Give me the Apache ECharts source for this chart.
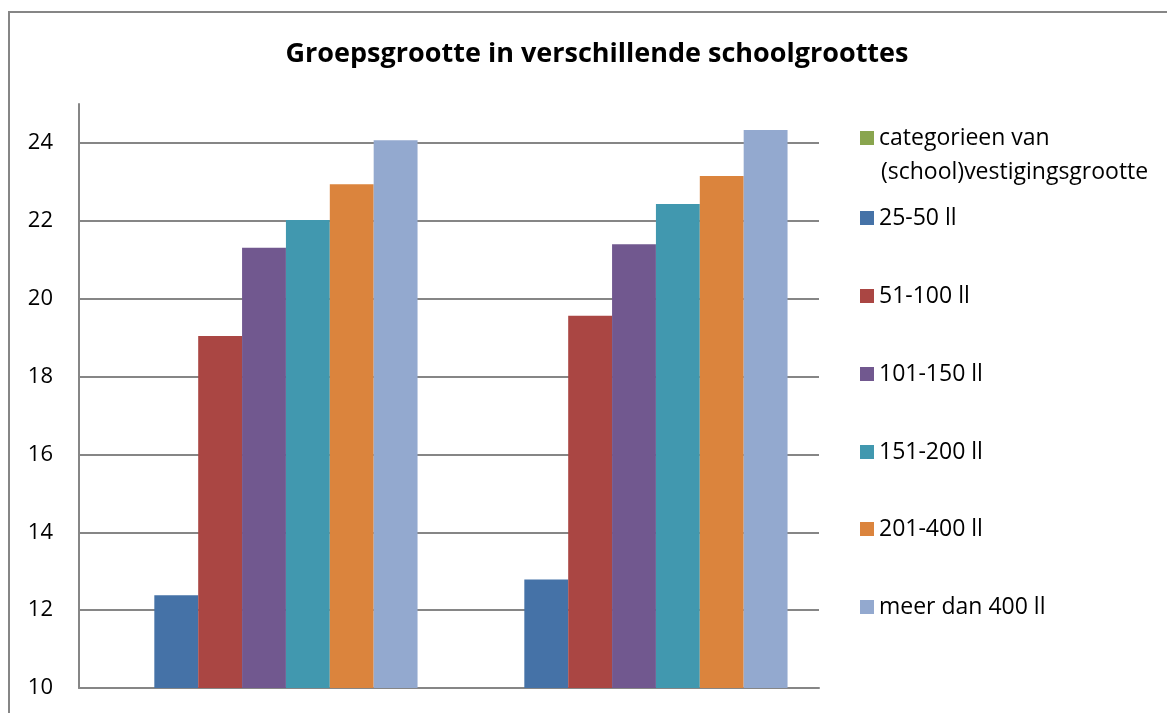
<!DOCTYPE html>
<html>
<head>
<meta charset="utf-8">
<script src="https://cdn.jsdelivr.net/npm/echarts@6/dist/echarts.min.js"></script>
<style>
html,body{margin:0;padding:0;background:#fff;}
#chart{width:1167px;height:713px;}
</style>
</head>
<body>
<div id="chart"></div>
<script>
const titleText = 'Groepsgrootte in verschillende schoolgroottes';
const categories = ['', ''];
const seriesNames = ['categorieen van (school)vestigingsgrootte', '25-50 ll', '51-100 ll', '101-150 ll', '151-200 ll', '201-400 ll', 'meer dan 400 ll'];
const catSchool = [null, null];
const ll25_50 = [12.38, 12.79];
const ll51_100 = [19.04, 19.56];
const ll101_150 = [21.31, 21.40];
const ll151_200 = [22.02, 22.43];
const ll201_400 = [22.94, 23.15];
const llMeer400 = [24.07, 24.33];
const yTicks = [10, 12, 14, 16, 18, 20, 22, 24];

const colors = ['#89A54E', '#4572A7', '#AA4643', '#71588F', '#4198AF', '#DB843D', '#93A9CF'];
const seriesData = [catSchool, ll25_50, ll51_100, ll101_150, ll151_200, ll201_400, llMeer400];
const FONT = 'Open Sans';
const gray = '#868686';

const chart = echarts.init(document.getElementById('chart'));

const legendCenters = [138, 218, 296, 374, 452, 529, 607];
const legendTextH = 28;
const legends = seriesNames.map((name, i) => ({
  data: [name],
  orient: 'vertical',
  left: 860,
  top: legendCenters[i] - legendTextH / 2,
  padding: 0,
  itemWidth: 14,
  itemHeight: 14,
  itemGap: 7,
  selectedMode: false,
  icon: 'rect',
  formatter: i === 0 ? 'categorieen van' : '{name}',
  textStyle: { fontFamily: FONT, fontSize: 23, color: '#000', lineHeight: legendTextH }
}));

chart.setOption({
  animation: false,
  color: colors,
  legend: legends,
  graphic: [
    { type: 'rect', shape: { x: 9, y: 12, width: 1300, height: 900 }, style: { fill: 'none', stroke: gray, lineWidth: 2 }, silent: true },
    { type: 'text', x: 597, y: 54, style: { text: titleText, fontFamily: FONT, fontWeight: 'bold', fontSize: 27, fill: '#000', align: 'center', verticalAlign: 'middle' } },
    { type: 'text', x: 881, y: 172, style: { text: '(school)vestigingsgrootte', fontFamily: FONT, fontSize: 23, fill: '#000', align: 'left', verticalAlign: 'middle' } }
  ],
  grid: { left: 79, right: 348, top: 104, bottom: 25, containLabel: false },
  xAxis: {
    type: 'category',
    data: categories,
    axisLine: { show: true, lineStyle: { color: gray, width: 2 } },
    axisTick: { show: false },
    axisLabel: { show: false }
  },
  yAxis: {
    type: 'value',
    min: 10,
    max: 25,
    interval: 2,
    axisLine: { show: true, lineStyle: { color: gray, width: 2 } },
    axisTick: { show: false },
    axisLabel: {
      showMaxLabel: false,
      margin: 26,
      fontFamily: FONT, fontSize: 22, color: '#000',
      formatter: v => (yTicks.indexOf(v) >= 0 ? String(v) : '')
    },
    splitLine: { show: true, showMaxLine: false, showMinLine: false, lineStyle: { color: gray, width: 2 } }
  },
  series: seriesNames.map((name, i) => ({
    name: name,
    type: 'bar',
    data: seriesData[i],
    barGap: '0%',
    barCategoryGap: '17%',
    itemStyle: { color: colors[i] }
  }))
});
</script>
</body>
</html>
